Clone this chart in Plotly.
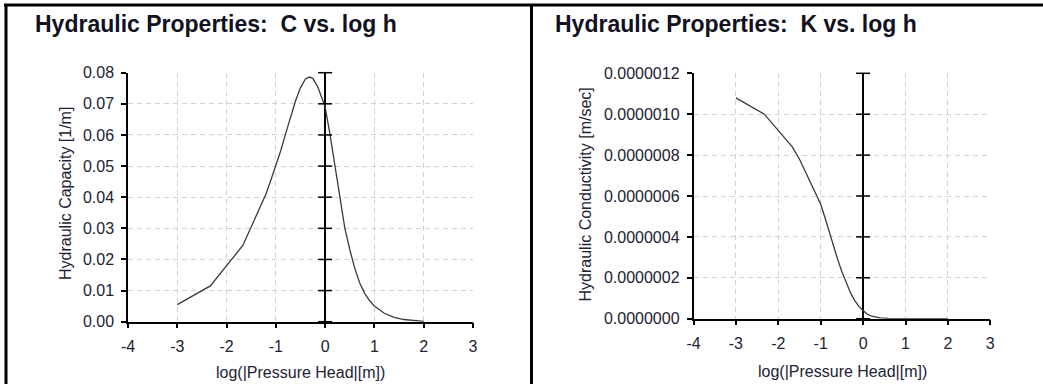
import plotly.graph_objects as go

W, H = 1043, 384

# C vs log h
log_h_c = [-3.0, -2.33, -1.67, -1.5, -1.4, -1.3, -1.2, -1.1, -1.0, -0.9, -0.8, -0.7, -0.6, -0.5,
           -0.4, -0.32, -0.25, -0.15, -0.05, 0.0, 0.1, 0.2, 0.3, 0.4, 0.5, 0.6, 0.7, 0.8, 0.9,
           1.0, 1.2, 1.4, 1.6, 1.8, 2.0]
capacity = [0.0055, 0.0115, 0.0245, 0.0305, 0.034, 0.0375, 0.041, 0.0455, 0.050, 0.055, 0.0605,
            0.066, 0.071, 0.0752, 0.078, 0.0786, 0.0782, 0.0755, 0.0715, 0.069, 0.060, 0.0495,
            0.039, 0.030, 0.0232, 0.0172, 0.0125, 0.0092, 0.0068, 0.005, 0.0027, 0.0014, 0.0007,
            0.0003, 0.0001]

# K vs log h
log_h_k = [-3.0, -2.33, -1.67, -1.5, -1.33, -1.17, -1.0, -0.9, -0.8, -0.7, -0.6, -0.5, -0.4,
           -0.3, -0.2, -0.1, 0.0, 0.1, 0.2, 0.3, 0.4, 0.6, 0.8, 1.0, 1.5, 2.0]
conductivity = [1.08e-6, 1.0e-6, 8.4e-7, 7.8e-7, 7.05e-7, 6.35e-7, 5.6e-7, 4.95e-7, 4.25e-7,
                3.55e-7, 2.9e-7, 2.3e-7, 1.75e-7, 1.28e-7, 0.9e-7, 0.6e-7, 0.4e-7, 0.22e-7,
                0.12e-7, 0.07e-7, 0.04e-7, 0.015e-7, 0.006e-7, 0.002e-7, 0.0005e-7, 0.0]

x_ticks = [-4, -3, -2, -1, 0, 1, 2, 3]
x_tick_labels = ["-4", "-3", "-2", "-1", "0", "1", "2", "3"]
c_ticks = [0, 0.01, 0.02, 0.03, 0.04, 0.05, 0.06, 0.07, 0.08]
k_ticks = [0, 2e-7, 4e-7, 6e-7, 8e-7, 1.0e-6, 1.2e-6]

FONT = "Liberation Sans, Arial, sans-serif"


def fx(p):
    return p / W


def fy(p):
    return 1 - p / H


axis_style = dict(showline=True, linecolor="black", linewidth=1.5, ticks="outside", ticklen=5,
                  tickcolor="black", tickwidth=1.5, showgrid=True, gridcolor="#d2d2d2",
                  griddash="5px,4px", gridwidth=1, ticklabelstandoff=4, automargin=False,
                  tickfont=dict(family=FONT, size=16, color="#222233"))

fig = go.Figure()

fig.add_trace(go.Scatter(x=log_h_c, y=capacity, mode="lines",
                         line=dict(color="#3a3a3a", width=1.3), xaxis="x", yaxis="y"))
fig.add_trace(go.Scatter(x=[0] * len(c_ticks), y=c_ticks, mode="markers", cliponaxis=False,
                         marker=dict(symbol="line-ew", size=10, line=dict(color="black", width=1.5)),
                         xaxis="x", yaxis="y"))
fig.add_trace(go.Scatter(x=log_h_k, y=conductivity, mode="lines",
                         line=dict(color="#3a3a3a", width=1.3), xaxis="x2", yaxis="y2"))
fig.add_trace(go.Scatter(x=[0] * len(k_ticks), y=k_ticks, mode="markers", cliponaxis=False,
                         marker=dict(symbol="line-ew", size=10, line=dict(color="black", width=1.5)),
                         xaxis="x2", yaxis="y2"))

xaxis_common = dict(axis_style, range=[-4, 3], tickvals=x_ticks, ticktext=x_tick_labels,
                    zeroline=True, zerolinecolor="black", zerolinewidth=1.5)

fig.update_layout(
    width=W, height=H, margin=dict(l=0, r=0, t=0, b=0, pad=0, autoexpand=False),
    paper_bgcolor="white", plot_bgcolor="white", showlegend=False,
    xaxis=dict(xaxis_common, domain=[fx(128), fx(473)], anchor="y"),
    yaxis=dict(axis_style, domain=[1 - 321.7 / H, 1 - 72.7 / H], anchor="x", range=[0, 0.08],
               tickvals=c_ticks, tickformat=".2f", zeroline=False),
    xaxis2=dict(xaxis_common, domain=[fx(693.5), fx(990.3)], anchor="y2"),
    yaxis2=dict(axis_style, domain=[1 - 318.7 / H, 1 - 73.3 / H], anchor="x2", range=[0, 1.2e-6],
                tickvals=k_ticks, tickformat=".7f", zeroline=False),
)

title_font = dict(family=FONT, size=23, color="#111122", weight="bold")
label_font = dict(family=FONT, size=16, color="#222233")

fig.add_annotation(text="Hydraulic Properties:&nbsp; C vs. log h", xref="paper", yref="paper",
                   x=fx(33), y=fy(24), xanchor="left", yanchor="middle", showarrow=False,
                   font=title_font)
fig.add_annotation(text="Hydraulic Properties:&nbsp; K vs. log h", xref="paper", yref="paper",
                   x=fx(553), y=fy(24), xanchor="left", yanchor="middle", showarrow=False,
                   font=title_font)
fig.add_annotation(text="Hydraulic Capacity [1/m]", xref="paper", yref="paper", textangle=-90,
                   x=fx(65), y=fy(194), xanchor="center", yanchor="middle", showarrow=False,
                   font=label_font)
fig.add_annotation(text="Hydraulic Conductivity [m/sec]", xref="paper", yref="paper",
                   textangle=-90, x=fx(584.5), y=fy(195), xanchor="center", yanchor="middle",
                   showarrow=False, font=label_font)
fig.add_annotation(text="log(|Pressure Head|[m])", xref="paper", yref="paper",
                   x=fx(300), y=fy(372), xanchor="center", yanchor="middle", showarrow=False,
                   font=label_font)
fig.add_annotation(text="log(|Pressure Head|[m])", xref="paper", yref="paper",
                   x=fx(842), y=fy(371), xanchor="center", yanchor="middle", showarrow=False,
                   font=label_font)

# frame lines around the two panels
frame = dict(color="black", width=3)
fig.add_shape(type="line", xref="paper", yref="paper", x0=fx(4), x1=1, y0=fy(5), y1=fy(5), line=frame)
fig.add_shape(type="line", xref="paper", yref="paper", x0=fx(6), x1=fx(6), y0=fy(5), y1=0, line=frame)
fig.add_shape(type="line", xref="paper", yref="paper", x0=fx(531.5), x1=fx(531.5), y0=fy(5), y1=0, line=frame)

# page body has a default 8px margin; drop it so the figure sits at the window corner
fig.write_html("out.html", config={"displayModeBar": False},
               post_script="document.body.style.margin='0';")
